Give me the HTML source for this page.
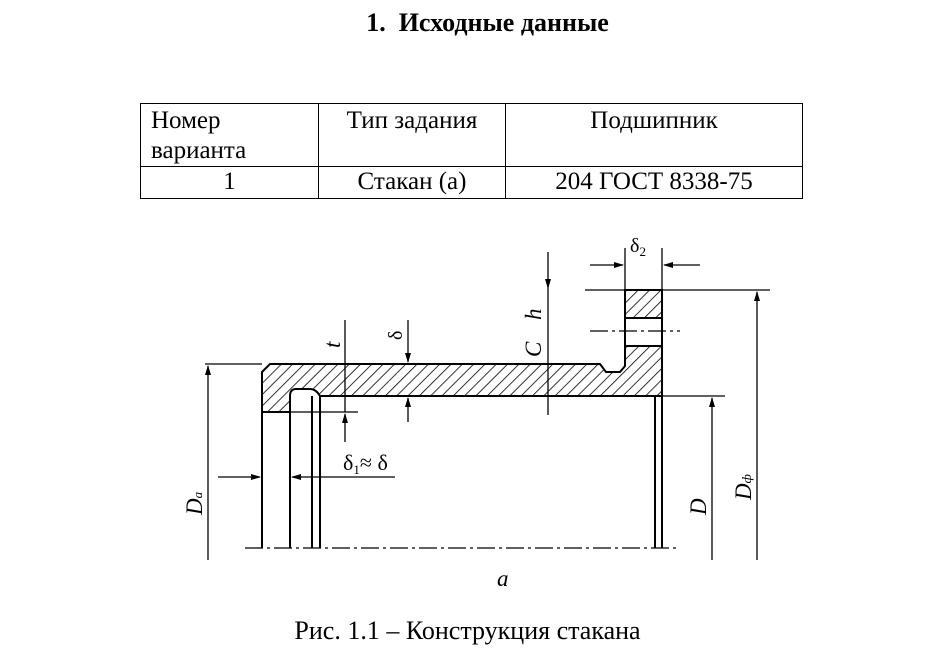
<!DOCTYPE html>
<html><head><meta charset="utf-8"><style>
html,body{margin:0;padding:0;background:#fff;}
body{width:942px;height:658px;position:relative;overflow:hidden;font-family:"Liberation Serif",serif;color:#000;}
.t{position:absolute;white-space:nowrap;}
table{position:absolute;left:140px;top:103px;border-collapse:collapse;font-family:"Liberation Serif",serif;font-size:25px;}
td{border:1px solid #000;padding:0 10px;vertical-align:top;line-height:30px;}
</style></head><body>
<div class="t" style="left:0;width:975px;text-align:center;top:8px;font-size:26px;font-weight:bold;">1.&nbsp; Исходные данные</div>
<table>
<tr style="height:62px"><td style="width:157px;padding-top:2px">Номер<br>варианта</td><td style="width:166px;text-align:center;padding-top:2px">Тип задания</td><td style="width:276px;text-align:center;padding-top:2px">Подшипник</td></tr>
<tr style="height:32px"><td style="text-align:center">1</td><td style="text-align:center">Стакан (а)</td><td style="text-align:center">204 ГОСТ 8338-75</td></tr>
</table>
<svg width="942" height="658" style="position:absolute;left:0;top:0" xmlns="http://www.w3.org/2000/svg">
<defs>
<pattern id="h" width="8" height="8" patternUnits="userSpaceOnUse" patternTransform="rotate(45)">
<line x1="0" y1="0" x2="0" y2="8" stroke="#000" stroke-width="1.6"/></pattern>
<marker id="a" markerWidth="10" markerHeight="8" refX="9" refY="4" orient="auto" markerUnits="userSpaceOnUse"><path d="M0,1 L10,4 L0,7z" fill="#000"/></marker>
</defs>
<g stroke="#000" stroke-width="2" fill="none">
<path d="M262,372 L270,364 L600,364 L606,372 L620,372 L625,366 L625,346 L662,346 L662,396 L320,396 Q316,389 310,389 L296,389 Q290,389 290,396 L290,412 L262,412 Z" fill="url(#h)"/>
<rect x="625" y="290" width="37" height="28" fill="url(#h)"/>
<line x1="625" y1="318" x2="625" y2="346"/><line x1="662" y1="318" x2="662" y2="346"/>
<line x1="262" y1="412" x2="262" y2="548"/>
<line x1="290" y1="412" x2="290" y2="548"/>
<line x1="312" y1="396" x2="312" y2="548"/>
<line x1="320" y1="396" x2="320" y2="548"/>
<line x1="655" y1="396" x2="655" y2="548"/>
<line x1="662" y1="396" x2="662" y2="548"/>
</g>
<g stroke="#000" stroke-width="1.3" fill="none">
<line x1="245" y1="548" x2="680" y2="548" stroke-dasharray="18,4,3,4"/>
<line x1="590" y1="331" x2="680" y2="331" stroke-dasharray="18,4,3,4"/>
<line x1="205" y1="364" x2="262" y2="364"/>
<line x1="585" y1="290" x2="770" y2="290"/>
<line x1="662" y1="396" x2="725" y2="396"/>
<line x1="262" y1="412" x2="358" y2="412"/>
<line x1="625" y1="248" x2="625" y2="290"/><line x1="662" y1="248" x2="662" y2="290"/>
<line x1="590" y1="265" x2="623" y2="265" marker-end="url(#a)"/>
<line x1="700" y1="265" x2="664" y2="265" marker-end="url(#a)"/>
<line x1="208" y1="560" x2="208" y2="366" marker-end="url(#a)"/>
<line x1="712" y1="560" x2="712" y2="398" marker-end="url(#a)"/>
<line x1="757" y1="560" x2="757" y2="292" marker-end="url(#a)"/>
<line x1="548" y1="252" x2="548" y2="288" marker-end="url(#a)"/>
<line x1="548" y1="288" x2="548" y2="415"/>
<line x1="345" y1="320" x2="345" y2="412"/>
<line x1="345" y1="442" x2="345" y2="414" marker-end="url(#a)"/>
<line x1="408" y1="320" x2="408" y2="362" marker-end="url(#a)"/>
<line x1="408" y1="422" x2="408" y2="398" marker-end="url(#a)"/>
<line x1="218" y1="477" x2="260" y2="477" marker-end="url(#a)"/>
<line x1="395" y1="477" x2="292" y2="477" marker-end="url(#a)"/>
</g>
<g font-family="Liberation Serif,serif" font-style="italic" font-size="23" fill="#000">
<text x="497" y="586">a</text>
<text transform="translate(202,515) rotate(-90)">D<tspan font-size="13">a</tspan></text>
<text transform="translate(706,515) rotate(-90)">D</text>
<text transform="translate(751,500) rotate(-90)">D<tspan font-size="13">ф</tspan></text>
<text transform="translate(541,357) rotate(-90)">C</text>
<text transform="translate(541,320) rotate(-90)">h</text>
<text transform="translate(340,348) rotate(-90)">t</text>
<text transform="translate(402,340) rotate(-90)" font-style="normal" font-size="20">δ</text>
<text x="630" y="252" font-style="normal" font-size="20">δ<tspan font-size="13" dy="4">2</tspan></text>
<text x="343" y="470" font-style="normal" font-size="22">δ<tspan font-size="13" dy="4">1</tspan><tspan dy="-4">≈ δ</tspan></text>
</g>
</svg>
<div class="t" style="left:0;width:935px;text-align:center;top:616px;font-size:26px;">Рис. 1.1 – Конструкция стакана</div>
</body></html>
